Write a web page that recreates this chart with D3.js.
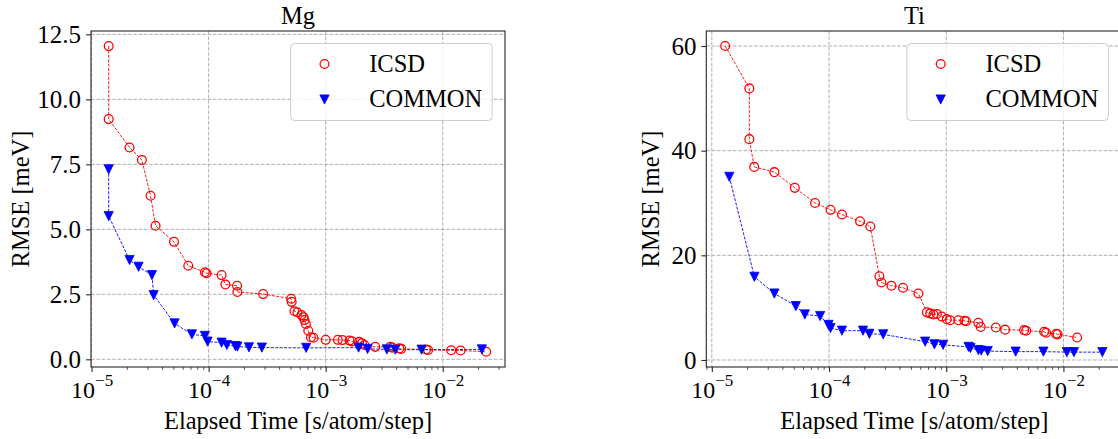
<!DOCTYPE html>
<html>
<head>
<meta charset="utf-8">
<script src="https://cdn.jsdelivr.net/npm/d3@7/dist/d3.min.js"></script>
<style>
  html, body { margin: 0; padding: 0; background: #fff; }
  svg text { font-family: "Liberation Serif", "Times New Roman", serif; fill: #000; }
</style>
</head>
<body>
<svg id="chart" width="1118" height="439"></svg>
<script>
// ---------------- DATA ----------------
const panelTitles = ["Mg", "Ti"];
const seriesNames = ["ICSD", "COMMON"];
const xTickValues = [1e-5, 1e-4, 1e-3, 1e-2];
const xTickExponents = [-5, -4, -3, -2];
const mgYTicks = [0, 2.5, 5.0, 7.5, 10.0, 12.5];
const tiYTicks = [0, 20, 40, 60];

const mgIcsdTime = [1.40e-5, 1.40e-5, 2.11e-5, 2.69e-5, 3.19e-5, 3.52e-5, 5.06e-5, 6.70e-5, 9.29e-5, 9.60e-5,
  1.29e-4, 1.39e-4, 1.75e-4, 1.76e-4, 2.92e-4, 5.07e-4, 5.12e-4, 5.41e-4, 5.74e-4, 6.21e-4,
  6.46e-4, 6.59e-4, 6.78e-4, 7.10e-4, 7.48e-4, 7.87e-4, 1.00e-3, 1.27e-3, 1.39e-3, 1.60e-3,
  1.68e-3, 1.93e-3, 2.04e-3, 2.14e-3, 2.65e-3, 3.56e-3, 3.70e-3, 4.25e-3, 4.42e-3, 7.2e-3,
  7.5e-3, 1.18e-2, 1.42e-2, 2.35e-2];
const mgIcsdRmse = [12.05, 9.24, 8.15, 7.67, 6.29, 5.14, 4.52, 3.60, 3.35, 3.31,
  3.24, 2.88, 2.83, 2.59, 2.51, 2.33, 2.21, 1.85, 1.81, 1.70,
  1.62, 1.51, 1.36, 1.10, 0.85, 0.83, 0.75, 0.75, 0.74, 0.72,
  0.69, 0.67, 0.62, 0.55, 0.48, 0.48, 0.45, 0.42, 0.40, 0.38,
  0.36, 0.35, 0.34, 0.29];

const mgCommonTime = [1.40e-5, 1.40e-5, 2.11e-5, 2.52e-5, 3.28e-5, 3.39e-5, 5.12e-5, 7.20e-5, 9.29e-5, 9.80e-5,
  1.29e-4, 1.43e-4, 1.69e-4, 1.76e-4, 2.21e-4, 2.85e-4, 6.81e-4, 1.91e-3, 2.28e-3, 3.33e-3,
  3.94e-3, 6.60e-3, 2.16e-2];
const mgCommonRmse = [7.31, 5.51, 3.82, 3.56, 3.24, 2.47, 1.38, 0.96, 0.90, 0.68,
  0.64, 0.55, 0.51, 0.49, 0.46, 0.45, 0.44, 0.45, 0.40, 0.38,
  0.37, 0.37, 0.38];

const tiIcsdTime = [1.30e-5, 2.09e-5, 2.09e-5, 2.30e-5, 3.42e-5, 5.11e-5, 7.60e-5, 1.03e-4, 1.29e-4, 1.84e-4,
  2.25e-4, 2.69e-4, 2.80e-4, 3.41e-4, 4.28e-4, 5.79e-4, 6.84e-4, 7.30e-4, 7.78e-4, 8.32e-4,
  9.17e-4, 1.01e-3, 1.08e-3, 1.27e-3, 1.43e-3, 1.48e-3, 1.88e-3, 1.97e-3, 2.65e-3, 3.18e-3,
  4.62e-3, 4.81e-3, 6.85e-3, 7.12e-3, 8.66e-3, 8.90e-3, 1.31e-2];
const tiIcsdRmse = [60.0, 51.9, 42.2, 36.9, 35.9, 32.9, 30.0, 28.7, 27.8, 26.5,
  25.5, 16.0, 14.8, 14.2, 13.8, 12.7, 9.1, 8.9, 8.7, 8.8,
  8.3, 7.8, 7.6, 7.6, 7.5, 7.4, 7.1, 6.3, 6.2, 5.8,
  5.7, 5.6, 5.4, 5.2, 5.0, 4.9, 4.3];

const tiCommonTime = [1.41e-5, 2.31e-5, 3.42e-5, 5.21e-5, 6.22e-5, 8.40e-5, 9.90e-5, 1.03e-4, 1.29e-4, 1.95e-4,
  2.21e-4, 2.90e-4, 6.61e-4, 7.93e-4, 9.41e-4, 1.55e-3, 1.61e-3, 1.88e-3, 1.99e-3, 2.26e-3,
  3.91e-3, 6.75e-3, 1.07e-2, 1.23e-2, 2.15e-2];
const tiCommonRmse = [35.0, 15.9, 12.7, 10.3, 8.7, 8.4, 6.7, 6.1, 5.6, 5.6,
  5.0, 4.9, 3.5, 3.0, 2.9, 2.5, 2.3, 1.9, 1.8, 1.7,
  1.6, 1.6, 1.5, 1.5, 1.5];

// ---------------- DRAWING ----------------
const svg = d3.select("#chart");
const FS = 24.5;
const SERIF = "'Liberation Serif', 'Times New Roman', serif";

function minorTicks(domain) {
  const out = [];
  for (let e = -6; e <= -1; e++) {
    for (let m = 2; m <= 9; m++) {
      const v = m * Math.pow(10, e);
      if (v >= domain[0] && v <= domain[1]) out.push(v);
    }
  }
  return out;
}

function triPath(px, py, h) {
  return `M${px},${py + h}L${px - h},${py - h}L${px + h},${py - h}Z`;
}

function drawPanel(cfg) {
  const x = d3.scaleLog().domain(cfg.xDomain).range([cfg.left, cfg.right]);
  const y = d3.scaleLinear().domain(cfg.yDomain).range([cfg.bottom, cfg.top]);
  const g = svg.append("g").attr("font-family", SERIF);

  const clipId = "clip" + cfg.id;
  svg.append("clipPath").attr("id", clipId)
    .append("rect").attr("x", cfg.left).attr("y", cfg.top)
    .attr("width", cfg.right - cfg.left).attr("height", cfg.bottom - cfg.top);

  // grid
  const grid = g.append("g").attr("clip-path", `url(#${clipId})`);
  grid.selectAll("line.gx").data(xTickValues).enter().append("line")
    .attr("x1", d => x(d)).attr("x2", d => x(d))
    .attr("y1", cfg.top).attr("y2", cfg.bottom)
    .attr("stroke", "#b0b0b0").attr("stroke-width", 1).attr("stroke-dasharray", "3.7,1.6");
  grid.selectAll("line.gy").data(cfg.yTicks).enter().append("line")
    .attr("x1", cfg.left).attr("x2", cfg.right)
    .attr("y1", d => y(d)).attr("y2", d => y(d))
    .attr("stroke", "#b0b0b0").attr("stroke-width", 1).attr("stroke-dasharray", "3.7,1.6");

  const plot = g.append("g").attr("clip-path", `url(#${clipId})`);
  const line = d3.line().x(d => x(d[0])).y(d => y(d[1]));

  const series = [
    { t: cfg.icsdT, v: cfg.icsdV, color: "#ff0000", type: "circle" },
    { t: cfg.commonT, v: cfg.commonV, color: "#0000ff", type: "tri" }
  ];
  series.forEach(s => {
    const pts = s.t.map((t, i) => [t, s.v[i]]);
    plot.append("path").datum(pts).attr("d", line)
      .attr("fill", "none").attr("stroke", s.color).attr("stroke-width", 0.9)
      .attr("stroke-dasharray", "3,1.4");
  });
  series.forEach(s => {
    const pts = s.t.map((t, i) => [t, s.v[i]]);
    if (s.type === "circle") {
      plot.selectAll(null).data(pts).enter().append("circle")
        .attr("cx", d => x(d[0])).attr("cy", d => y(d[1])).attr("r", 4.4)
        .attr("fill", "none").attr("stroke", s.color).attr("stroke-width", 1.3);
    } else {
      plot.selectAll(null).data(pts).enter().append("path")
        .attr("d", d => triPath(x(d[0]), y(d[1]), 4.6))
        .attr("fill", s.color).attr("stroke", s.color).attr("stroke-width", 0.8);
    }
  });

  // frame
  g.append("rect").attr("x", cfg.left).attr("y", cfg.top)
    .attr("width", cfg.right - cfg.left).attr("height", cfg.bottom - cfg.top)
    .attr("fill", "none").attr("stroke", "#262626").attr("stroke-width", 1.1);

  // x axis major
  const xAxis = d3.axisBottom(x).tickValues(xTickValues).tickSize(4.9).tickPadding(4).tickFormat("");
  const xa = g.append("g").attr("transform", `translate(0,${cfg.bottom})`).call(xAxis)
    .attr("font-family", SERIF);
  xa.select(".domain").remove();
  xa.selectAll(".tick line").attr("stroke", "#262626").attr("stroke-width", 1.1);
  xa.selectAll(".tick text").each(function(d, i) {
    const t = d3.select(this);
    t.text(null).attr("font-size", 24).attr("dy", null).attr("y", 31).attr("font-family", SERIF);
    t.append("tspan").text("10");
    t.append("tspan").attr("font-size", 17).attr("dy", -12).text("\u2212" + Math.abs(xTickExponents[i]));
  });
  // x axis minor
  const xMinor = d3.axisBottom(x).tickValues(minorTicks(x.domain())).tickSize(2.8).tickFormat("");
  const xm = g.append("g").attr("transform", `translate(0,${cfg.bottom})`).call(xMinor);
  xm.select(".domain").remove();
  xm.selectAll(".tick line").attr("stroke", "#262626").attr("stroke-width", 0.8);

  // y axis
  const yAxis = d3.axisLeft(y).tickValues(cfg.yTicks).tickSize(4.9).tickPadding(5).tickFormat(cfg.yFmt);
  const ya = g.append("g").attr("transform", `translate(${cfg.left},0)`).call(yAxis)
    .attr("font-family", SERIF);
  ya.select(".domain").remove();
  ya.selectAll(".tick line").attr("stroke", "#262626").attr("stroke-width", 1.1);
  ya.selectAll(".tick text").attr("font-size", 25).attr("dy", "0.33em").attr("font-family", SERIF);

  // labels
  g.append("text").attr("x", (cfg.left + cfg.right) / 2).attr("y", 23.5)
    .attr("text-anchor", "middle").attr("font-size", FS).text(cfg.title);
  g.append("text").attr("x", (cfg.left + cfg.right) / 2).attr("y", 429)
    .attr("text-anchor", "middle").attr("font-size", FS).text("Elapsed Time [s/atom/step]");
  g.append("text")
    .attr("transform", `translate(${cfg.ylabelX},${(cfg.top + cfg.bottom) / 2}) rotate(-90)`)
    .attr("text-anchor", "middle").attr("font-size", FS).text("RMSE [meV]");

  // legend
  const lg = g.append("g");
  lg.append("rect").attr("x", cfg.legX).attr("y", 43.5).attr("width", 201.5).attr("height", 77)
    .attr("rx", 4).attr("fill", "#fff").attr("fill-opacity", 0.8)
    .attr("stroke", "#cccccc").attr("stroke-width", 1);
  lg.append("circle").attr("cx", cfg.legX + 33.8).attr("cy", 64).attr("r", 4.4)
    .attr("fill", "none").attr("stroke", "#ff0000").attr("stroke-width", 1.3);
  lg.append("path").attr("d", triPath(cfg.legX + 33.8, 99.5, 4.6))
    .attr("fill", "#0000ff").attr("stroke", "#0000ff").attr("stroke-width", 0.8);
  lg.append("text").attr("x", cfg.legX + 78.5).attr("y", 71.5).attr("font-size", FS).text(seriesNames[0]);
  lg.append("text").attr("x", cfg.legX + 78.5).attr("y", 106.5).attr("font-size", FS).text(seriesNames[1]);
}

drawPanel({
  id: "mg", title: panelTitles[0],
  left: 91, right: 505, top: 31, bottom: 367,
  xDomain: [Math.pow(10, -5.005), Math.pow(10, -1.468)],
  yDomain: [-0.296, 12.63],
  yTicks: mgYTicks, yFmt: d3.format(".1f"),
  icsdT: mgIcsdTime, icsdV: mgIcsdRmse, commonT: mgCommonTime, commonV: mgCommonRmse,
  ylabelX: 29, legX: 290.7
});

drawPanel({
  id: "ti", title: panelTitles[1],
  left: 706.3, right: 1122.5, top: 31, bottom: 367,
  xDomain: [Math.pow(10, -5.047), Math.pow(10, -1.496)],
  yDomain: [-1.34, 62.87],
  yTicks: tiYTicks, yFmt: d3.format("d"),
  icsdT: tiIcsdTime, icsdV: tiIcsdRmse, commonT: tiCommonTime, commonV: tiCommonRmse,
  ylabelX: 659, legX: 906.9
});
</script>
</body>
</html>
